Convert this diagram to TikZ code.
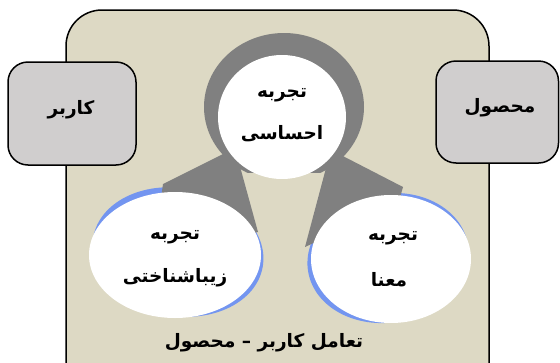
\documentclass[tikz,border=0pt]{standalone}
\usepackage{fontspec}
\newfontfamily\arabicfont[Script=Arabic]{DejaVu Sans}
\TeXXeTstate=1
\definecolor{beige}{HTML}{DDD9C4}
\definecolor{boxgray}{HTML}{D0CECE}
\definecolor{wedge}{HTML}{808080}
\definecolor{rimblue}{HTML}{7395F0}
\begin{document}
\begin{tikzpicture}[x=1pt,y=-1pt,
  lbl/.style={font=\arabicfont\bfseries\fontsize{18.5}{22}\selectfont, inner sep=0pt, text=black},
  panel/.style={draw=black, line width=1.5pt, rounded corners=36pt, fill=beige},
  sidebox/.style={draw=black, line width=1.5pt, rounded corners=20pt, fill=boxgray}]
\useasboundingbox (0,0) rectangle (560,362);
\clip (0,0) rectangle (560,362);
% main panel
\path[panel] (66,10) rectangle (489,400);
% side boxes
\path[sidebox] (8,62) rectangle (136,165);
\path[sidebox] (436,61) rectangle (558.5,163);
% top grey halo
\begin{scope}
\clip (190,20) rectangle (380,172);
\fill[wedge] (284,107) ellipse [x radius=80, y radius=74];
\end{scope}
% blue rims
\fill[rimblue, rotate around={-10:(178,252)}] (178,252) ellipse [x radius=86, y radius=64];
\fill[rimblue, rotate around={10:(388,258)}] (388,258) ellipse [x radius=81, y radius=64.5];
% grey wedges
\fill[wedge] (227,152) -- (163,184) -- (160,205) -- (200,245) -- (258,232) -- (236,152) -- cycle;
\fill[wedge] (330,153) -- (305,247) -- (320,240) -- (395,215) -- (403,187) -- (337,153) -- cycle;
% white ellipses
\fill[white] (175,255) ellipse [x radius=86, y radius=63];
\fill[white] (391,259) ellipse [x radius=80, y radius=64];
\fill[white] (282,117) ellipse [x radius=64, y radius=62];
% labels
\node[lbl] (user) at (71,110) {\beginR کاربر\endR};
\node[lbl] (product) at (500,108) {\beginR محصول\endR};
\node[lbl] (t1) at (282,95) {\beginR تجربه\endR};
\node[lbl] (t1b) at (282,134) {\beginR احساسی\endR};
\node[lbl] (t2) at (175,237) {\beginR تجربه\endR};
\node[lbl] (t2b) at (175,278) {\beginR زیباشناختی\endR};
\node[lbl] (t3) at (393,238) {\beginR تجربه\endR};
\node[lbl] (t3b) at (389,280) {\beginR معنا\endR};
\node[lbl] (inter) at (264,343) {\beginR تعامل کاربر – محصول\endR};
\end{tikzpicture}
\end{document}
